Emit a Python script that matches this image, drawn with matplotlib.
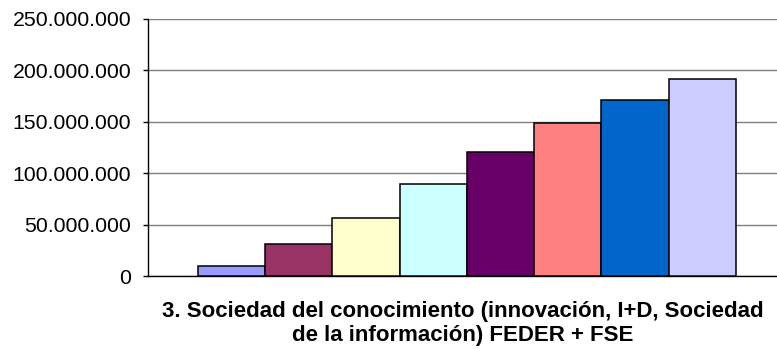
import matplotlib
matplotlib.use('Agg')
from matplotlib import pyplot as plt
from matplotlib.ticker import FuncFormatter, MultipleLocator

plt.rcParams['font.family'] = ['Liberation Sans', 'DejaVu Sans']

# Importes por anualidad (euros)
valores = [10.0e6, 30.8e6, 56.1e6, 89.5e6, 120.3e6, 148.8e6, 170.9e6, 191.6e6]
colores = ['#9999FF', '#993366', '#FFFFCC', '#CCFFFF',
           '#660066', '#FF8080', '#0066CC', '#CCCCFF']
titulo = "3. Sociedad del conocimiento (innovación, I+D, Sociedad\nde la información) FEDER + FSE"

fig = plt.figure(figsize=(7.77, 3.49), dpi=100)
ax = fig.add_axes([148 / 777, 73 / 349, 629 / 777, 257 / 349])

pos = list(range(len(valores)))
ax.bar(pos, valores, width=1.0, color=colores, edgecolor='black', linewidth=1.1, zorder=3)

ax.set_xlim(-1.243, 8.11)
ax.set_ylim(0, 250e6)
ax.yaxis.set_major_locator(MultipleLocator(50e6))
ax.yaxis.set_major_formatter(FuncFormatter(lambda v, p: f"{int(v):,}".replace(",", ".")))
ax.yaxis.grid(True, color='#808080', linewidth=1.0, zorder=0)
ax.yaxis.get_gridlines()[-1].set_color('#eeeeee')

ax.set_xticks([])
ax.tick_params(axis='y', direction='out', length=3.6, width=1, labelsize=15.3, pad=8.6)
for s in ['top', 'right']:
    ax.spines[s].set_visible(False)
ax.spines['left'].set_linewidth(1)
ax.spines['bottom'].set_linewidth(1)

ax.set_xlabel(titulo, fontsize=16, fontweight='bold', labelpad=18, linespacing=1.2)

fig.savefig('out.png', dpi=100)
